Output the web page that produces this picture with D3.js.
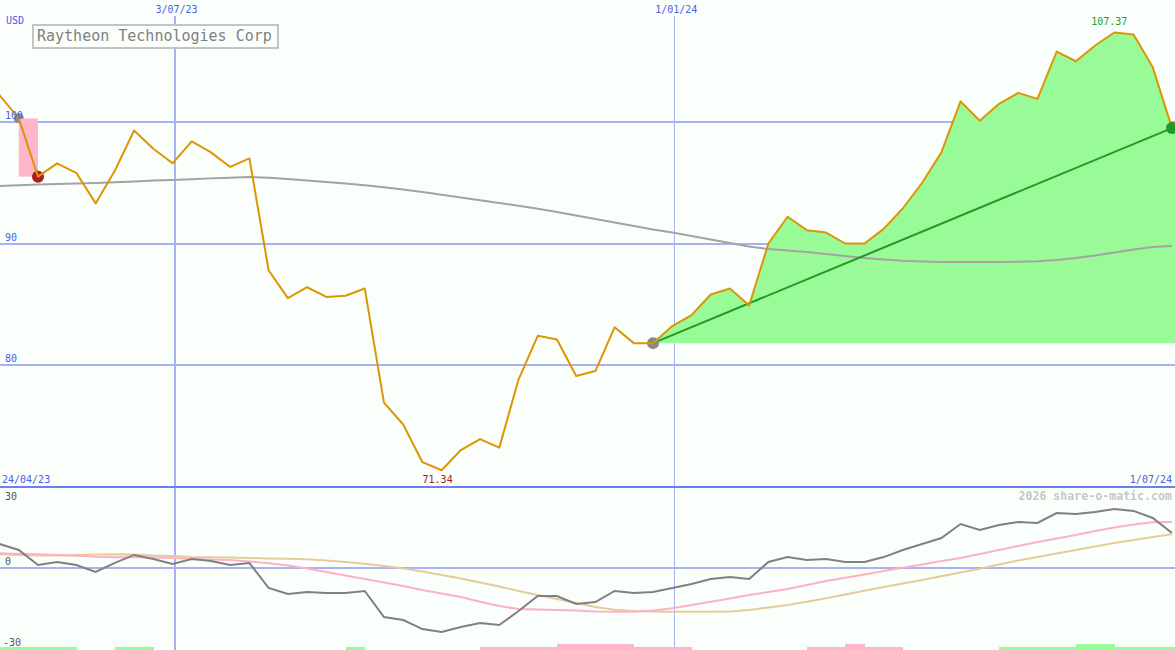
<!DOCTYPE html>
<html>
<head>
<meta charset="utf-8">
<script src="https://cdn.jsdelivr.net/npm/d3@7"></script>
<style>
  html, body { margin: 0; padding: 0; background: #fbfffb; }
  svg { display: block; }
  text { font-family: "DejaVu Sans Mono", monospace; }
</style>
</head>
<body>
<svg id="chart" width="1175" height="650"></svg>
<script>
// ---------- DATA ----------
const dates = [
  "2023-04-24","2023-05-01","2023-05-08","2023-05-15","2023-05-22","2023-05-29",
  "2023-06-05","2023-06-12","2023-06-19","2023-06-26","2023-07-03","2023-07-10",
  "2023-07-17","2023-07-24","2023-07-31","2023-08-07","2023-08-14","2023-08-21",
  "2023-08-28","2023-09-04","2023-09-11","2023-09-18","2023-09-25","2023-10-02",
  "2023-10-09","2023-10-16","2023-10-23","2023-10-30","2023-11-06","2023-11-13",
  "2023-11-20","2023-11-27","2023-12-04","2023-12-11","2023-12-18","2023-12-25",
  "2024-01-01","2024-01-08","2024-01-15","2024-01-22","2024-01-29","2024-02-05",
  "2024-02-12","2024-02-19","2024-02-26","2024-03-04","2024-03-11","2024-03-18",
  "2024-03-25","2024-04-01","2024-04-08","2024-04-15","2024-04-22","2024-04-29",
  "2024-05-06","2024-05-13","2024-05-20","2024-05-27","2024-06-03","2024-06-10",
  "2024-06-17","2024-06-24","2024-07-01"
];

const price = [
  104.0, 102.2, 100.3, 95.5, 96.6, 95.8, 93.3, 96.0, 99.3, 97.8,
  96.6, 98.4, 97.5, 96.3, 97.0, 87.8, 85.5, 86.4, 85.6, 85.7,
  86.3, 76.9, 75.1, 72.0, 71.34, 73.0, 73.9, 73.2, 78.8, 82.4,
  82.1, 79.1, 79.5, 83.1, 81.8, 81.8, 83.2, 84.1, 85.8, 86.3,
  84.9, 90.0, 92.2, 91.1, 90.9, 90.0, 90.0, 91.2, 92.9, 95.0,
  97.5, 101.7, 100.1, 101.5, 102.4, 101.9, 105.8, 105.0, 106.3, 107.37,
  107.2, 104.5, 99.5
];

const movingAvg = [
  94.69, 94.73, 94.79, 94.85, 94.90, 94.94, 94.98, 95.04, 95.10, 95.19,
  95.23, 95.28, 95.36, 95.42, 95.47, 95.42, 95.31, 95.19, 95.06, 94.94,
  94.79, 94.63, 94.44, 94.24, 94.01, 93.79, 93.56, 93.33, 93.10, 92.86,
  92.59, 92.30, 92.02, 91.73, 91.44, 91.15, 90.90, 90.62, 90.33, 90.04,
  89.75, 89.55, 89.42, 89.30, 89.14, 88.97, 88.81, 88.68, 88.58, 88.52,
  88.48, 88.48, 88.48, 88.48, 88.50, 88.54, 88.64, 88.81, 89.01, 89.26,
  89.51, 89.71, 89.79
];

const momentum = [
  10.5, 9.0, 6.75, 1.1, 2.25, 1.1, -1.5, 1.9, 4.9, 3.4,
  1.5, 3.4, 2.6, 1.1, 1.9, -7.5, -9.75, -9.0, -9.4, -9.4,
  -8.6, -18.4, -19.5, -22.9, -24.0, -22.1, -20.6, -21.4, -16.1, -10.5,
  -10.5, -13.5, -12.75, -8.6, -9.4, -9.0, -7.5, -6.0, -4.1, -3.4,
  -4.1, 2.25, 4.1, 3.0, 3.4, 2.25, 2.25, 4.1, 6.75, 9.0,
  11.25, 16.5, 14.25, 16.1, 17.25, 16.9, 20.6, 20.25, 21.0, 22.1,
  21.4, 18.75, 13.1
];

const signalFast = [
  5.63, 5.51, 5.25, 5.14, 4.88, 4.61, 4.20, 4.01, 4.01, 3.90,
  3.75, 3.45, 3.23, 3.00, 2.44, 1.80, 0.94, -0.19, -1.50, -2.81,
  -4.13, -5.44, -6.75, -8.25, -9.56, -10.88, -12.64, -14.25, -15.38, -15.56,
  -15.75, -15.94, -16.31, -16.39, -16.39, -15.94, -15.11, -13.88, -12.68, -11.44,
  -10.13, -9.00, -7.88, -6.38, -4.88, -3.64, -2.40, -1.13, 0.08, 1.31,
  2.63, 3.75, 5.25, 6.75, 8.25, 9.75, 11.06, 12.38, 13.88, 15.19,
  16.31, 17.14, 17.25
];

const signalSlow = [
  5.06, 5.14, 4.88, 4.69, 4.69, 4.88, 5.06, 5.14, 5.06, 4.69,
  4.50, 4.13, 4.01, 3.90, 3.75, 3.60, 3.49, 3.26, 2.81, 2.25,
  1.58, 0.75, -0.19, -1.31, -2.63, -3.94, -5.44, -6.94, -8.63, -10.13,
  -11.63, -13.13, -14.63, -15.64, -16.13, -16.31, -16.39, -16.39, -16.39, -16.31,
  -15.75, -14.81, -13.88, -12.68, -11.36, -9.94, -8.55, -7.13, -5.81, -4.50,
  -3.11, -1.69, -0.26, 1.31, 2.81, 4.13, 5.44, 6.75, 8.06, 9.38,
  10.50, 11.63, 12.64
];

// weekly trend signal: + green, - pink, magnitude 1 or 2
const trendSignal = [
  1, 1, 1, 1, 1, 0, 0, 1, 1, 0,
  0, 0, 0, 0, 0, 0, 0, 0, 0, 1,
  0, 0, 0, 0, 0, 0, -1, -1, -1, -1,
  -2, -2, -2, -2, -1, -1, -1, 0, 0, 0,
  0, 0, 0, -1, -1, -2, -1, -1, 0, 0,
  0, 0, 0, 1, 1, 1, 1, 2, 2, 1,
  1, 1, 1
];

const priceTicks = [100, 90, 80];
const lowerTicks = [30, 0, -30];
const dateGrid = ["2023-07-03", "2024-01-01"];
const dateGridLabels = ["3/07/23", "1/01/24"];
const title = "Raytheon Technologies Corp";
const currency = "USD";
const startLabel = "24/04/23";
const endLabel = "1/07/24";
const watermark = "2026 share-o-matic.com";
const dropFrom = 2, dropTo = 3;     // highlighted drop
const trendFrom = 35;               // trend start index

// ---------- SETUP ----------
const W = 1175, H = 650;
const parse = d3.utcParse("%Y-%m-%d");
const dts = dates.map(parse);
const svg = d3.select("#chart");

svg.append("rect").attr("width", W).attr("height", H).attr("fill", "#fbfffb");

const x = d3.scaleUtc()
  .domain([parse("2023-05-15"), parse("2024-07-01")])
  .range([38, 1172]);
const y = d3.scaleLinear().domain([80, 100]).range([365, 122]);
const y2 = d3.scaleLinear().domain([-30, 30]).range([648, 488]);
const barH = d3.scaleLinear().domain([0, 2]).range([0, 6.5]);

const gridCol = "#a6b2f4";
const labelBlue = "#4a5ee6";
const font = '"DejaVu Sans Mono", monospace';
const gridShift = 2;

// ---------- GRID ----------
const grid = svg.append("g").attr("shape-rendering", "crispEdges");
grid.selectAll("line.h").data(priceTicks).join("line")
  .attr("x1", 0).attr("x2", W)
  .attr("y1", d => y(d)).attr("y2", d => y(d))
  .attr("stroke", gridCol).attr("stroke-width", 2);

grid.selectAll("line.v").data(dateGrid).join("line")
  .attr("x1", d => x(parse(d)) + gridShift).attr("x2", d => x(parse(d)) + gridShift)
  .attr("y1", 16).attr("y2", H)
  .attr("stroke", gridCol).attr("stroke-width", (d, i) => i === 0 ? 2 : 1);

// lower zero line
grid.append("line")
  .attr("x1", 0).attr("x2", W).attr("y1", y2(0)).attr("y2", y2(0))
  .attr("stroke", gridCol).attr("stroke-width", 2);

// ---------- MAIN PANEL ----------
const tail = d3.range(trendFrom, price.length);
const baseVal = price[trendFrom];

// green area (extend to right edge)
const areaPts = tail.map(i => [x(dts[i]), y(price[i])]);
areaPts.push([W, y(price[price.length - 1])]);
svg.append("path")
  .datum(areaPts)
  .attr("d", d3.area().x(d => d[0]).y0(y(baseVal)).y1(d => d[1]))
  .attr("fill", "#98fb98");

// moving average
svg.append("path")
  .datum(movingAvg)
  .attr("d", d3.line().x((d, i) => x(dts[i])).y(d => y(d)))
  .attr("fill", "none").attr("stroke", "#a3a3a3").attr("stroke-width", 2);

// trend line
svg.append("line")
  .attr("x1", x(dts[trendFrom])).attr("y1", y(price[trendFrom]))
  .attr("x2", x(dts[price.length - 1])).attr("y2", y(price[price.length - 1]))
  .attr("stroke", "#229922").attr("stroke-width", 2);

// dots
svg.append("circle")
  .attr("cx", x(dts[dropFrom])).attr("cy", y(price[dropFrom])).attr("r", 5)
  .attr("fill", "#888888");
svg.append("rect")
  .attr("x", x(dts[dropFrom])).attr("width", x(dts[dropTo]) - x(dts[dropFrom]))
  .attr("y", y(price[dropFrom])).attr("height", y(price[dropTo]) - y(price[dropFrom]))
  .attr("fill", "#ffb6c8");
svg.append("circle")
  .attr("cx", x(dts[dropTo])).attr("cy", y(price[dropTo])).attr("r", 6)
  .attr("fill", "#a81e1e");
svg.append("circle")
  .attr("cx", x(dts[trendFrom])).attr("cy", y(price[trendFrom])).attr("r", 6)
  .attr("fill", "#888888");

// price line
svg.append("path")
  .datum(price)
  .attr("d", d3.line().x((d, i) => x(dts[i])).y(d => y(d)))
  .attr("fill", "none").attr("stroke", "#dc9504").attr("stroke-width", 2)
  .attr("stroke-linejoin", "round");

svg.append("circle")
  .attr("cx", x(dts[price.length - 1])).attr("cy", y(price[price.length - 1])).attr("r", 6)
  .attr("fill", "#229922");

// price tick labels
svg.selectAll("text.pt").data(priceTicks).join("text")
  .attr("x", 5).attr("y", d => y(d) - 3)
  .attr("font-size", 10).attr("fill", labelBlue)
  .text(d => d);

svg.append("text").attr("x", 6).attr("y", 24)
  .attr("font-size", 10).attr("fill", labelBlue).text(currency);

// date labels
svg.selectAll("text.dl").data(dateGrid).join("text")
  .attr("x", d => x(parse(d)) + gridShift + 2).attr("y", 13)
  .attr("text-anchor", "middle")
  .attr("font-size", 10).attr("fill", labelBlue)
  .text((d, i) => dateGridLabels[i]);

// max / min labels
const iMax = d3.maxIndex(price), iMin = d3.minIndex(price);
svg.append("text")
  .attr("x", x(dts[iMax]) - 5).attr("y", 25).attr("text-anchor", "middle")
  .attr("font-size", 10).attr("fill", "#22a022").text(price[iMax].toFixed(2));
svg.append("text")
  .attr("x", x(dts[iMin]) - 4).attr("y", 483).attr("text-anchor", "middle")
  .attr("font-size", 10).attr("fill", "#a02020").text(price[iMin].toFixed(2));

// title box
svg.append("rect")
  .attr("x", 33).attr("y", 25).attr("width", 245).attr("height", 23)
  .attr("fill", "#fbfffb").attr("stroke", "#c4c4c4").attr("stroke-width", 2);
svg.append("text")
  .attr("x", 37).attr("y", 41)
  .attr("font-size", 15).attr("fill", "#808080").text(title);

// ---------- SEPARATOR ----------
svg.append("line")
  .attr("x1", 0).attr("x2", W).attr("y1", 487).attr("y2", 487)
  .attr("stroke", "#6f80ee").attr("stroke-width", 2)
  .attr("shape-rendering", "crispEdges");
svg.append("text").attr("x", 2).attr("y", 483)
  .attr("font-size", 10).attr("fill", labelBlue).text(startLabel);
svg.append("text").attr("x", 1172).attr("y", 483).attr("text-anchor", "end")
  .attr("font-size", 10).attr("fill", labelBlue).text(endLabel);

// ---------- LOWER PANEL ----------
svg.append("text").attr("x", 1172).attr("y", 500).attr("text-anchor", "end")
  .attr("font-size", 11.6).attr("font-weight", "bold").attr("fill", "#c8c8c8")
  .text(watermark);

svg.selectAll("text.lt").data(lowerTicks).join("text")
  .attr("x", (d) => d < 0 ? 3 : 5)
  .attr("y", d => d === 30 ? 500 : (d === 0 ? 565 : 646))
  .attr("font-size", 10).attr("fill", "#555555")
  .text(d => d);

const line2 = d3.line().x((d, i) => x(dts[i])).y(d => y2(d));
svg.append("path").datum(signalSlow).attr("d", line2)
  .attr("fill", "none").attr("stroke", "#e3cc9c").attr("stroke-width", 2);
svg.append("path").datum(signalFast).attr("d", line2)
  .attr("fill", "none").attr("stroke", "#ffb0c8").attr("stroke-width", 2);
svg.append("path").datum(momentum).attr("d", line2)
  .attr("fill", "none").attr("stroke", "#808080").attr("stroke-width", 2);

// signal bars
const step = x(dts[1]) - x(dts[0]);
svg.append("g").attr("shape-rendering", "crispEdges")
  .selectAll("rect").data(trendSignal).join("rect")
  .attr("x", (d, i) => x(dts[i]))
  .attr("width", step + 0.5)
  .attr("y", d => H - barH(Math.abs(d)))
  .attr("height", d => barH(Math.abs(d)))
  .attr("fill", d => d > 0 ? "#98fb98" : "#ffb6c8");
</script>
</body>
</html>
